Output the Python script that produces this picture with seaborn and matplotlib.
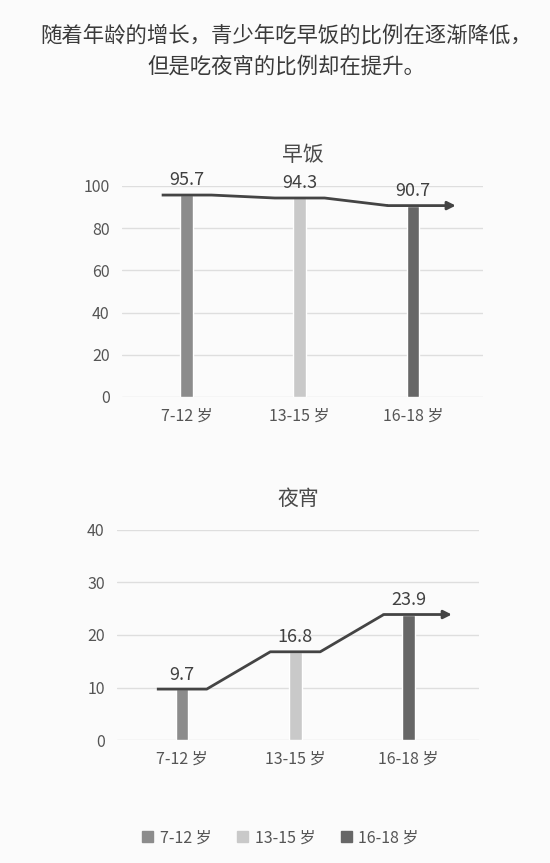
import numpy as np
import pandas as pd
import matplotlib.pyplot as plt
import seaborn as sns

ages = ["7-12 岁", "13-15 岁", "16-18 岁"]
breakfast = [95.7, 94.3, 90.7]
snack = [9.7, 16.8, 23.9]
bar_colors = ["#8c8c8c", "#c9c9c9", "#676767"]

title = "随着年龄的增长，青少年吃早饭的比例在逐渐降低，\n但是吃夜宵的比例却在提升。"

sns.set_theme(style="white")
plt.rcParams["font.family"] = ["Noto Sans CJK SC", "DejaVu Sans"]
TXT = "#555555"

fig = plt.figure(figsize=(5.5, 8.63), dpi=100, facecolor="#fbfbfb")
fig.text(0.52, 0.941, title, ha="center", va="center", fontsize=15.4,
         color="#3a3a3a", linespacing=1.5)


def panel(rect, values, ymax, step, name):
    ax = fig.add_axes(rect)
    ax.set_facecolor("#fbfbfb")
    df = pd.DataFrame({"age": ages, "val": values})
    sns.barplot(data=df, x="age", y="val", hue="age", palette=bar_colors,
                width=0.11, legend=False, ax=ax, saturation=1)
    # stepped trend line with arrow
    xs, ys = [], []
    for i, v in enumerate(values):
        xs += [i - 0.22, i + 0.22]
        ys += [v, v]
    ax.plot(xs[:-1], ys[:-1], color="#444444", lw=2, solid_capstyle="butt")
    ax.annotate("", xy=(len(values) - 1 + 0.38, values[-1]),
                xytext=(len(values) - 1 - 0.22, values[-1]),
                arrowprops=dict(arrowstyle="-|>", color="#444444", lw=2,
                                mutation_scale=12, shrinkA=0, shrinkB=0))
    for i, v in enumerate(values):
        ax.annotate(f"{v}", (i, v), xytext=(0, 4), textcoords="offset points",
                    ha="center", va="bottom", fontsize=13, color="#404040")
    ax.set_ylim(0, ymax)
    ax.set_xlim(-0.57, 2.62)
    ax.set_yticks(np.arange(0, ymax + 1, step))
    ax.yaxis.grid(True, color="#dedede", lw=1)
    ax.set_axisbelow(True)
    sns.despine(ax=ax, left=True, bottom=True)
    ax.set_xlabel("")
    ax.set_ylabel("")
    ax.tick_params(axis="both", length=0, labelsize=11.5, labelcolor=TXT)
    ax.tick_params(axis="y", pad=9)
    ax.tick_params(axis="x", pad=8)
    ax.set_title(name, fontsize=15, color="#4a4a4a", pad=18)
    return ax


panel([0.222, 0.540, 0.656, 0.2445], breakfast, 100, 20, "早饭")
panel([0.213, 0.1425, 0.658, 0.2434], snack, 40, 10, "夜宵")

handles = [plt.Rectangle((0, 0), 1, 1, color=c) for c in bar_colors]
fig.legend(handles, ages, loc="center", bbox_to_anchor=(0.51, 0.029), ncol=3,
           frameon=False, fontsize=11.5, handlelength=0.7, handleheight=0.7,
           columnspacing=1.6, handletextpad=0.4, labelcolor=TXT)

fig.savefig("out.png", dpi=100, facecolor=fig.get_facecolor())
